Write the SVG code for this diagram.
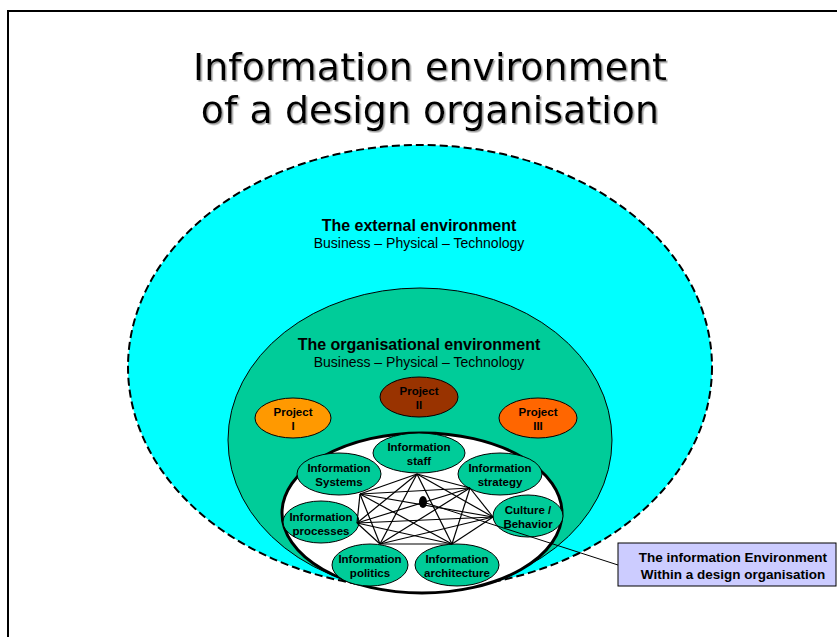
<svg xmlns="http://www.w3.org/2000/svg" width="837" height="637" viewBox="0 0 837 637">
<defs>
<filter id="sh" x="-5%" y="-5%" width="110%" height="120%">
<feDropShadow dx="1.5" dy="1.5" stdDeviation="0.4" flood-color="#888888" flood-opacity="0.8"/>
</filter>
</defs>
<style>
.title{font-family:"DejaVu Sans",Verdana,sans-serif;font-size:38px;fill:#000;text-anchor:middle}
.hb{font-family:"Liberation Sans",Arial,sans-serif;font-weight:bold;font-size:16px;text-anchor:middle;fill:#000}
.hr{font-family:"Liberation Sans",Arial,sans-serif;font-size:14px;text-anchor:middle;fill:#000}
.lb{font-family:"Liberation Sans",Arial,sans-serif;font-weight:bold;font-size:11.5px;text-anchor:middle;fill:#000}
.cb{font-family:"Liberation Sans",Arial,sans-serif;font-weight:bold;font-size:13.5px;text-anchor:middle;fill:#000}
.node{fill:#00CC99;stroke:#000;stroke-width:1}
.net line{stroke:#000;stroke-width:1.2}
</style>
<rect width="837" height="637" fill="#fff"/>
<path d="M8,637 V11 H837" fill="none" stroke="#000" stroke-width="2"/>
<g id="title" filter="url(#sh)">
<text class="title" x="430" y="80">Information environment</text>
<text class="title" x="430" y="123">of a design organisation</text>
</g>
<g id="external">
<ellipse cx="420" cy="367" rx="292" ry="222" fill="#00FFFF" stroke="#000" stroke-width="2" stroke-dasharray="8,4"/>
<text class="hb" x="419" y="231">The external environment</text>
<text class="hr" x="419" y="248">Business – Physical – Technology</text>
</g>
<g id="organisational">
<ellipse cx="420" cy="440" rx="192" ry="152" fill="#00CC99" stroke="#000" stroke-width="1"/>
<text class="hb" x="419" y="350">The organisational environment</text>
<text class="hr" x="419" y="367">Business – Physical – Technology</text>
</g>
<g id="project1">
<ellipse cx="293" cy="418" rx="38" ry="20" fill="#FF9900" stroke="#000"/>
<text class="lb" x="293" y="416">Project</text>
<text class="lb" x="293" y="430">I</text>
</g>
<g id="project2">
<ellipse cx="419" cy="397" rx="39" ry="20" fill="#993300" stroke="#000"/>
<text class="lb" x="419" y="395">Project</text>
<text class="lb" x="419" y="409">II</text>
</g>
<g id="project3">
<ellipse cx="538" cy="418" rx="39" ry="20" fill="#FF6600" stroke="#000"/>
<text class="lb" x="538" y="416">Project</text>
<text class="lb" x="538" y="430">III</text>
</g>
<g id="information-environment">
<ellipse cx="422" cy="513" rx="140" ry="80" fill="#fff" stroke="#000" stroke-width="3"/>
</g>
<g id="staff">
<ellipse class="node" cx="419" cy="453" rx="46" ry="20"/>
<text class="lb" x="419" y="451">Information</text>
<text class="lb" x="419" y="465">staff</text>
</g>
<g id="systems">
<ellipse class="node" cx="339" cy="474" rx="42" ry="21"/>
<text class="lb" x="339" y="472">Information</text>
<text class="lb" x="339" y="486">Systems</text>
</g>
<g id="strategy">
<ellipse class="node" cx="500" cy="474" rx="42" ry="21"/>
<text class="lb" x="500" y="472">Information</text>
<text class="lb" x="500" y="486">strategy</text>
</g>
<g id="culture">
<ellipse class="node" cx="528" cy="516" rx="35" ry="21"/>
<text class="lb" x="528" y="514">Culture /</text>
<text class="lb" x="528" y="528">Behavior</text>
</g>
<g id="processes">
<ellipse class="node" cx="321" cy="522" rx="38" ry="21"/>
<text class="lb" x="321" y="521">Information</text>
<text class="lb" x="321" y="535">processes</text>
</g>
<g id="politics">
<ellipse class="node" cx="370" cy="565" rx="38" ry="21"/>
<text class="lb" x="370" y="563">Information</text>
<text class="lb" x="370" y="577">politics</text>
</g>
<g id="architecture">
<ellipse class="node" cx="457" cy="565" rx="42" ry="21"/>
<text class="lb" x="457" y="563">Information</text>
<text class="lb" x="457" y="577">architecture</text>
</g>
<g id="connectors" class="net">
<line x1="417" y1="474" x2="360" y2="494"/>
<line x1="417" y1="474" x2="470" y2="488"/>
<line x1="417" y1="474" x2="493" y2="517"/>
<line x1="417" y1="474" x2="357" y2="523"/>
<line x1="417" y1="474" x2="380" y2="544"/>
<line x1="417" y1="474" x2="452" y2="544"/>
<line x1="360" y1="494" x2="470" y2="488"/>
<line x1="360" y1="494" x2="493" y2="517"/>
<line x1="360" y1="494" x2="357" y2="523"/>
<line x1="360" y1="494" x2="380" y2="544"/>
<line x1="360" y1="494" x2="452" y2="544"/>
<line x1="470" y1="488" x2="493" y2="517"/>
<line x1="470" y1="488" x2="357" y2="523"/>
<line x1="470" y1="488" x2="380" y2="544"/>
<line x1="470" y1="488" x2="452" y2="544"/>
<line x1="493" y1="517" x2="357" y2="523"/>
<line x1="493" y1="517" x2="380" y2="544"/>
<line x1="493" y1="517" x2="452" y2="544"/>
<line x1="357" y1="523" x2="380" y2="544"/>
<line x1="357" y1="523" x2="452" y2="544"/>
<line x1="380" y1="544" x2="452" y2="544"/>
<line x1="423" y1="502" x2="618" y2="565" style="stroke-width:1"/>
</g>
<g id="hub">
<ellipse cx="423" cy="502" rx="4" ry="6" fill="#000"/>
</g>
<g id="callout">
<rect x="618" y="543" width="218" height="43" fill="#CCCCFF" stroke="#000" stroke-width="1"/>
<text class="cb" x="733" y="562">The information Environment</text>
<text class="cb" x="733" y="579">Within a design organisation</text>
</g>
</svg>
